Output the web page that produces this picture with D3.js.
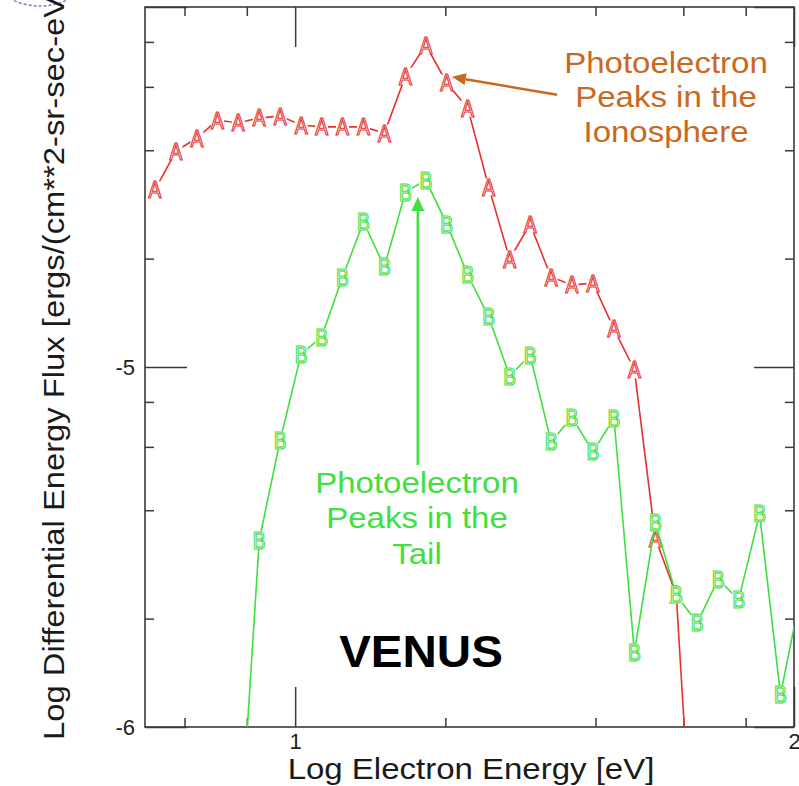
<!DOCTYPE html>
<html><head><meta charset="utf-8">
<script src="https://cdn.jsdelivr.net/npm/d3@7"></script>
<style>
html,body{margin:0;padding:0;background:#fff;}
svg{display:block;font-family:"Liberation Sans",Arial,Helvetica,sans-serif;}
</style>
</head><body>
<svg id="chart" width="799" height="786"></svg>
<script>
// ---- data (log10 values) ----
const logEnergy = [0.719,0.761,0.803,0.844,0.886,0.928,0.970,1.012,1.053,1.095,1.137,1.179,1.221,1.262,1.304,1.346,
                   1.388,1.430,1.471,1.513,1.555,1.597,1.639,1.680,1.722,1.764,1.806,1.848,1.889,1.931,1.973,2.015];
const fluxA = [-4.508,-4.400,-4.364,-4.314,-4.322,-4.308,-4.303,-4.328,-4.333,-4.333,-4.333,-4.350,-4.192,-4.106,-4.211,-4.281,
               -4.500,-4.700,-4.603,-4.750,-4.772,-4.767,-4.894,-5.008,-5.475,-5.633,-6.590,null,null,null,null,null];
const fluxB = [null,null,null,null,-6.397,-5.481,-5.203,-4.964,-4.917,-4.750,-4.597,-4.722,-4.514,-4.481,-4.603,-4.744,
               -4.861,-5.025,-4.967,-5.208,-5.139,-5.236,-5.142,-5.792,-5.433,-5.633,-5.711,-5.589,-5.647,-5.408,-5.911,-5.619];
const seriesNames = ["A","B"];
const seriesColors = ["#e8302e","#3ee03e"];
const xTickValues = [1, 2];
const xTickLabels = ["1", "2"];
const yTickValues = [-6, -5, -4];
const yTickLabels = ["-6", "-5", ""];
const minorMultipliers = [2, 4, 6, 8];
const xDecades = [0, 1];
const yDecades = [-6, -5];
const xTitle = "Log Electron Energy [eV]";
const yTitle = "Log Differential Energy Flux [ergs/(cm**2-sr-sec-eV)]";
const planetLabel = "VENUS";
const noteIono = ["Photoelectron", "Peaks in the", "Ionosphere"];
const noteTail = ["Photoelectron", "Peaks in the", "Tail"];

// ---- layout ----
const L = 145, R = 794, T = 7, B = 727;
const svg = d3.select("#chart");
const x = d3.scaleLinear().domain([Math.log10(5), 2]).range([L, R]);
const y = d3.scaleLinear().domain([-6, -4]).range([B, T]);

svg.append("defs").append("clipPath").attr("id","plotclip")
  .append("rect").attr("x",L).attr("y",T).attr("width",R-L).attr("height",B-T);

// faint logo fragment top-left
svg.append("ellipse").attr("cx",40).attr("cy",-14).attr("rx",38).attr("ry",20)
  .attr("fill","none").attr("stroke","#5a5ac8").attr("stroke-width",1.5).attr("stroke-dasharray","3,2").attr("opacity",0.8);

// minor tick values
const xMinor = [];
xDecades.forEach(d => minorMultipliers.forEach(k => { const v = d + Math.log10(k); if (v > x.domain()[0] && v < 2) xMinor.push(v); }));
const yMinor = [];
yDecades.forEach(d => minorMultipliers.forEach(k => yMinor.push(d + Math.log10(k))));

const axisColor = "#3a3a3a";
function styleAxis(g){
  g.select(".domain").remove();
  g.selectAll(".tick line").attr("stroke", axisColor).attr("stroke-width", 1.5);
  g.selectAll(".tick text").attr("fill","#222").style("font-size","22px").style("font-family",'"Liberation Sans",Arial,sans-serif');
}
// bottom
svg.append("g").attr("transform",`translate(0,${B})`)
  .call(d3.axisBottom(x).tickValues(xTickValues).tickSize(-40).tickPadding(6).tickFormat((d,i)=>xTickLabels[i])).call(styleAxis);
svg.append("g").attr("transform",`translate(0,${B})`)
  .call(d3.axisBottom(x).tickValues(xMinor).tickSize(-9).tickFormat("")).call(styleAxis);
// top
svg.append("g").attr("transform",`translate(0,${T})`)
  .call(d3.axisTop(x).tickValues(xTickValues).tickSize(-40).tickFormat("")).call(styleAxis);
svg.append("g").attr("transform",`translate(0,${T})`)
  .call(d3.axisTop(x).tickValues(xMinor).tickSize(-9).tickFormat("")).call(styleAxis);
// left
svg.append("g").attr("transform",`translate(${L},0)`)
  .call(d3.axisLeft(y).tickValues(yTickValues).tickSize(-42).tickPadding(10).tickFormat((d,i)=>yTickLabels[i])).call(styleAxis);
svg.append("g").attr("transform",`translate(${L},0)`)
  .call(d3.axisLeft(y).tickValues(yMinor).tickSize(-9).tickFormat("")).call(styleAxis);
// right
svg.append("g").attr("transform",`translate(${R},0)`)
  .call(d3.axisRight(y).tickValues(yTickValues).tickSize(-40).tickFormat("")).call(styleAxis);
svg.append("g").attr("transform",`translate(${R},0)`)
  .call(d3.axisRight(y).tickValues(yMinor).tickSize(-9).tickFormat("")).call(styleAxis);

// frame
svg.append("rect").attr("x",L).attr("y",T).attr("width",R-L).attr("height",B-T)
  .attr("fill","none").attr("stroke",axisColor).attr("stroke-width",1.6);

// axis titles
svg.append("g").attr("transform",`translate(471,${B+52}) scale(1.1,1)`)
  .append("text").attr("text-anchor","middle").style("font-size","30px").attr("fill","#1a1a1a").text(xTitle);
svg.append("g").attr("transform",`translate(64,740) rotate(-90) scale(1.13,1)`)
  .append("text").attr("text-anchor","start").style("font-size","29px").attr("fill","#1a1a1a").text(yTitle);

// series
const plot = svg.append("g").attr("clip-path","url(#plotclip)");
[fluxA, fluxB].forEach((vals, si) => {
  const pts = logEnergy.map((e,i)=>({e, v: vals[i], s: seriesNames[si]})).filter(d => d.v !== null);
  const line = d3.line().x(d=>x(d.e)).y(d=>y(d.v));
  plot.append("path").datum(pts).attr("d", line).attr("fill","none")
    .attr("stroke", seriesColors[si]).attr("stroke-width",1.6);
  const m = plot.append("g").selectAll("g").data(pts).join("g")
    .attr("transform", d => `translate(${x(d.e)},${y(d.v)})`);
  m.append("rect").attr("x",-6.5).attr("y",-8.5).attr("width",13).attr("height",17).attr("fill","#fff");
  m.append("text").attr("text-anchor","middle").attr("y",8.5)
    .attr("transform","scale(0.84,1)")
    .style("font-size","23px").attr("fill","#fff")
    .attr("stroke", seriesColors[si]).attr("stroke-width",1.2)
    .text(d => d.s);
});

// annotations
function arrow(x1,y1,x2,y2,color,w,hl,hw){
  const ang = Math.atan2(y2-y1, x2-x1);
  const bx = x2 - hl*Math.cos(ang), by = y2 - hl*Math.sin(ang);
  svg.append("line").attr("x1",x1).attr("y1",y1).attr("x2",bx).attr("y2",by)
    .attr("stroke",color).attr("stroke-width",w);
  const px = -Math.sin(ang)*hw/2, py = Math.cos(ang)*hw/2;
  svg.append("path").attr("d",`M${x2},${y2}L${bx+px},${by+py}L${bx-px},${by-py}Z`).attr("fill",color);
}
const orange = "#c9691f", green = "#40e040";
arrow(x(1.525), y(-4.244), x(1.314), y(-4.194), orange, 2.6, 14, 12);
arrow(x(1.246), y(-5.272), x(1.246), y(-4.528), green, 2.6, 14, 13);

function block(lines, cx, y0, dy, color){
  const g = svg.append("g").attr("transform",`translate(${cx},0) scale(1.1,1)`);
  lines.forEach((t,i)=> g.append("text").attr("text-anchor","middle").attr("y", y0 + i*dy)
    .style("font-size","30px").attr("fill",color).text(t));
}
block(noteIono, 666, 73, 34.5, orange);
block(noteTail, 417, 493, 35.5, green);

svg.append("g").attr("transform","translate(421,667) scale(1.08,1)")
  .append("text").attr("text-anchor","middle").style("font-size","44px").style("font-weight","bold")
  .attr("fill","#000").text(planetLabel);
</script>
</body></html>
